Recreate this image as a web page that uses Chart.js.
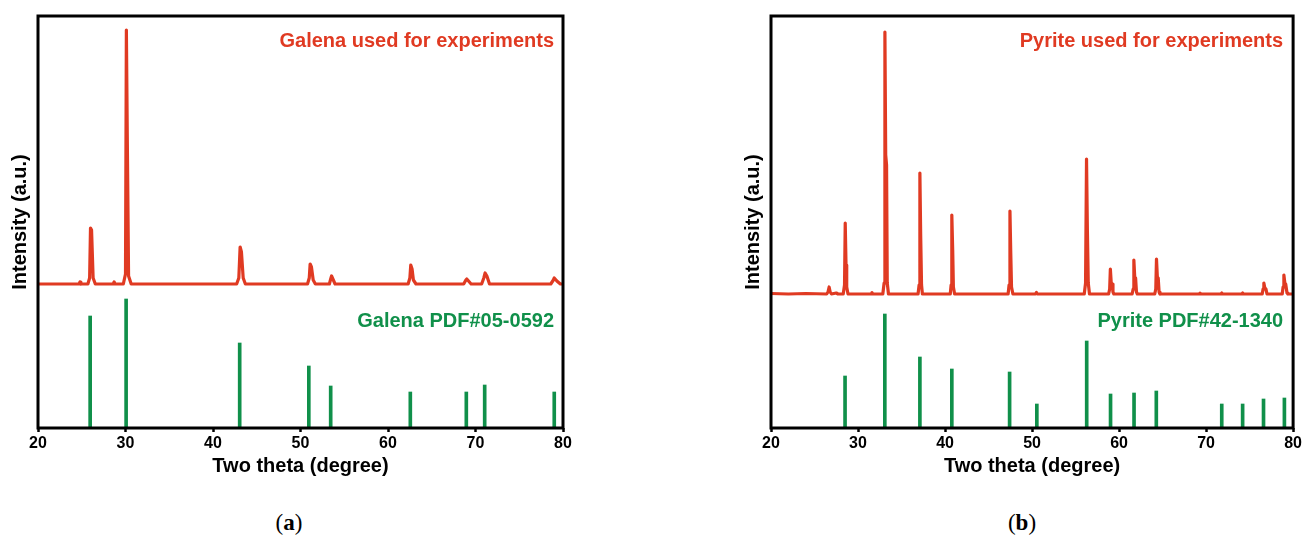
<!DOCTYPE html>
<html><head><meta charset="utf-8">
<script src="https://cdn.jsdelivr.net/npm/chart.js@4.4.1/dist/chart.umd.min.js"></script>
<style>
body{margin:0;background:#fff;width:1304px;height:536px;overflow:hidden;position:relative;font-family:'Liberation Sans',Arial,sans-serif}
.box{position:absolute;top:0;height:490px}
.cap{position:absolute;top:509px;font-family:'Liberation Serif','Times New Roman',serif;font-size:23px;line-height:28px;color:#000;transform:translateX(-50%)}
</style></head><body>
<div class="box" style="left:0;width:600px"><canvas id="c1"></canvas></div>
<div class="box" style="left:733px;width:571px"><canvas id="c2"></canvas></div>
<div class="cap" style="left:289px">(<b>a</b>)</div>
<div class="cap" style="left:1022px">(<b>b</b>)</div>
<script>
// ---------- data ----------
const xTicks = [20, 30, 40, 50, 60, 70, 80];

// Galena measured pattern (two theta, intensity a.u. above its baseline)
const galenaX = [20,24.7,24.8,24.9,25.7,25.9,26.0,26.12,26.3,26.55,28.6,28.7,28.8,29.75,30.0,30.1,30.2,30.35,30.65,42.7,42.95,43.1,43.25,43.45,43.7,50.8,51.0,51.1,51.25,51.45,51.7,53.3,53.45,53.55,53.7,53.95,62.3,62.5,62.6,62.75,62.9,63.2,68.65,68.9,69.0,69.2,69.5,70.7,70.95,71.1,71.3,71.6,78.6,78.9,79.0,79.3,79.7,80];
const galenaY = [0,0,2,0,0,6,56,54,6,0,0,2,0,0,10,254,150,8,0,0,6,37,32,6,0,0,6,20,17,4,0,0,5,8,5,0,0,6,19,15,4,0,0,4,5,3,0,0,6,11,8,0,0,4,6,3,0,0];
// Galena PDF#05-0592 reference lines
const galenaRefX = [25.96,30.07,43.05,50.95,53.45,62.55,68.95,71.05,79.0];
const galenaRefY = [112,129,85,62,42,36,36,43,36];

// Pyrite measured pattern
const pyriteX = [20,22,24,26.4,26.55,26.68,26.8,26.95,27.5,27.7,28.3,28.45,28.53,28.62,28.7,28.85,31.5,31.6,31.7,32.85,33.0,33.09,33.18,33.28,33.36,33.5,36.9,37.02,37.11,37.2,37.3,37.4,40.6,40.7,40.78,40.88,40.96,41.1,47.25,47.36,47.46,47.55,47.64,47.8,50.4,50.5,50.6,56.0,56.15,56.26,56.36,56.46,56.6,58.8,58.92,59.0,59.1,59.2,59.3,59.4,61.5,61.62,61.7,61.8,61.9,62.0,62.1,64.1,64.22,64.3,64.4,64.5,64.6,64.7,69.2,69.3,69.4,71.7,71.8,71.9,74.1,74.2,74.3,76.45,76.55,76.64,76.75,76.88,77.0,78.75,78.85,78.94,79.05,79.15,79.3,79.4,80];
const pyriteY = [1.5,1,1.5,1,3,8,3,1,2,1,1,10,72,30,8,1,1,2.5,1,1,12,263,140,130,12,1,1,10,122,60,10,1,1,10,80,45,8,1,1,10,84,43,8,1,1,2.5,1,1,12,136,64,12,1,1,6,26,12,11,3,1,1,6,35,18,17,3,1,1,6,36,18,17,3,1,1,2,1,1,2,1,1,2,1,1,6,12,7,6,1,1,8,20,12,11,2,1,1];
// Pyrite PDF#42-1340 reference lines
const pyriteRefX = [28.51,33.08,37.11,40.78,47.42,50.55,56.28,59.02,61.72,64.28,71.8,74.2,76.6,79.0];
const pyriteRefY = [52,114,71,59,56,24,87,34,35,37,24,24,29,30];

const measuredOffset = {galena: 144, pyrite: 133}; // vertical stacking of the measured curve
const labels = {
  galena: ['Galena used for experiments', 'Galena PDF#05-0592'],
  pyrite: ['Pyrite used for experiments', 'Pyrite PDF#42-1340']
};

// ---------- styles ----------
const RED = '#E03A22', GREEN = '#10904A';
const FONT = "'Liberation Sans', Arial, sans-serif";

const decor = {
  id: 'decor',
  afterDatasetsDraw(chart, args, opts) {
    const {ctx, chartArea: a} = chart;
    ctx.save();
    ctx.font = 'bold 20px ' + FONT;
    ctx.textAlign = 'right';
    ctx.textBaseline = 'middle';
    ctx.fillStyle = RED;
    ctx.fillText(opts.top, a.right - opts.inset, a.top + opts.y1);
    ctx.fillStyle = GREEN;
    ctx.fillText(opts.bottom, a.right - opts.inset, a.top + opts.y2);
    ctx.strokeStyle = '#000';
    ctx.lineWidth = 3;
    ctx.strokeRect(a.left, a.top, a.right - a.left, a.bottom - a.top);
    ctx.restore();
  }
};

function makeChart(id, mx, my, off, rx, ry, lab, padRight, inset) {
  const line = mx.map((x, i) => ({x, y: my[i] + off}));
  const bars = rx.map((x, i) => ({x, y: ry[i]}));
  return new Chart(document.getElementById(id), {
    type: 'line',
    data: {datasets: [
      {type: 'line', data: line, borderColor: RED, borderWidth: 3.2, pointRadius: 0, tension: 0,
       borderJoinStyle: 'round', borderCapStyle: 'round', fill: false},
      {type: 'bar', data: bars, backgroundColor: GREEN, barThickness: 3, borderWidth: 0}
    ]},
    options: {
      responsive: true, maintainAspectRatio: false, animation: false,
      layout: {padding: {top: 16, right: padRight, left: 0, bottom: 0}},
      plugins: {legend: {display: false}, tooltip: {enabled: false},
        decor: {top: lab[0], bottom: lab[1], y1: 25, y2: 305, inset: inset}},
      scales: {
        x: {type: 'linear', min: xTicks[0], max: xTicks[xTicks.length - 1], offset: false,
          afterFit: s => { s.height = 62; },
          ticks: {stepSize: xTicks[1] - xTicks[0], autoSkip: false, color: '#000',
            font: {family: FONT, size: 16, weight: 'bold'}, padding: 2, maxRotation: 0},
          grid: {display: true, offset: false, drawOnChartArea: false, drawTicks: true, tickLength: 4, tickWidth: 2.5, tickColor: '#000'},
          border: {display: false},
          title: {display: true, text: 'Two theta (degree)', color: '#000',
            font: {family: FONT, size: 20, weight: 'bold'}, padding: {top: 0, bottom: 12}}
        },
        y: {min: 0, max: 412,
          afterFit: s => { s.width = 38; },
          ticks: {display: false}, grid: {display: false}, border: {display: false},
          title: {display: true, text: 'Intensity (a.u.)', color: '#000',
            font: {family: FONT, size: 20, weight: 'bold'}, padding: {top: 8, bottom: 0}}
        }
      }
    },
    plugins: [decor]
  });
}

makeChart('c1', galenaX, galenaY, measuredOffset.galena, galenaRefX, galenaRefY, labels.galena, 37, 9);
makeChart('c2', pyriteX, pyriteY, measuredOffset.pyrite, pyriteRefX, pyriteRefY, labels.pyrite, 9, 10);
</script>
</body></html>
